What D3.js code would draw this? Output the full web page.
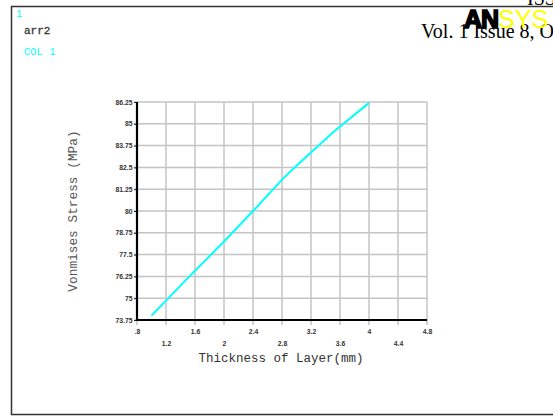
<!DOCTYPE html>
<html><head><meta charset="utf-8">
<script src="https://cdn.jsdelivr.net/npm/d3@7"></script>
<style>
html,body{margin:0;padding:0;background:#fff;overflow:hidden}
svg{display:block}
</style></head><body>
<script>
// ---- data ----
const thickness = [1.0, 1.5, 2.0, 2.4, 2.8, 3.0, 3.5, 4.0];
const stress    = [74.0, 76.15, 78.25, 80.0, 81.8, 82.6, 84.5, 86.2];
const xTicks = [0.8, 1.2, 1.6, 2.0, 2.4, 2.8, 3.2, 3.6, 4.0, 4.4, 4.8];
const xTickLabels = [".8", "1.2", "1.6", "2", "2.4", "2.8", "3.2", "3.6", "4", "4.4", "4.8"];
const yTicks = [73.75, 75, 76.25, 77.5, 78.75, 80, 81.25, 82.5, 83.75, 85, 86.25];
const yTickLabels = ["73.75", "75", "76.25", "77.5", "78.75", "80", "81.25", "82.5", "83.75", "85", "86.25"];
const xTitle = "Thickness of Layer(mm)";
const yTitle = "Vonmises Stress (MPa)";

const W = 553, H = 416;
const svg = d3.select("body").append("svg").attr("width", W).attr("height", H);

const x = d3.scaleLinear().domain([0.8, 4.8]).range([137, 427]);
const y = d3.scaleLinear().domain([73.75, 86.25]).range([320, 102]);

// window frame
svg.append("path").attr("d", "M553,6.5 H11.5 V414.5 H553")
  .attr("fill", "none").attr("stroke", "#333").attr("stroke-width", 1.5);

// header overlay (page text)
svg.append("text").attr("x", 527).attr("y", 5).text("ISSN")
  .attr("font-family", "Liberation Serif, Times New Roman, serif").attr("font-size", 20).attr("fill", "#000");
svg.append("text").attr("x", 421).attr("y", 38).text("Vol. 1 Issue 8, October")
  .attr("font-family", "Liberation Serif, Times New Roman, serif").attr("font-size", 20).attr("fill", "#000");
const logo = svg.append("text").attr("x", 464).attr("y", 28)
  .attr("font-family", "Liberation Sans, Arial, sans-serif").attr("font-size", 25);
logo.append("tspan").text("AN").attr("font-weight", 900).attr("fill", "#000")
  .attr("stroke", "#000").attr("stroke-width", 1.6).attr("letter-spacing", -1);
logo.append("tspan").text("SYS").attr("fill", "#ffff00");

// ANSYS window labels
svg.append("text").attr("x", 16).attr("y", 17).text("1")
  .attr("font-family", "Liberation Mono, monospace").attr("font-size", 10.5).attr("fill", "#00ffff");
svg.append("text").attr("x", 24).attr("y", 34).text("arr2")
  .attr("font-family", "Liberation Mono, monospace").attr("font-size", 11).attr("fill", "#333")
  .attr("stroke", "#333").attr("stroke-width", 0.3);
svg.append("text").attr("x", 24).attr("y", 55).text("COL  1")
  .attr("font-family", "Liberation Mono, monospace").attr("font-size", 10.5).attr("fill", "#00ffff");

// grid
const grid = svg.append("g").attr("stroke", "#c4c4c4").attr("stroke-width", 1.5);
grid.selectAll("line.v").data(xTicks).join("line")
  .attr("x1", d => x(d)).attr("x2", d => x(d)).attr("y1", y(86.25)).attr("y2", y(73.75) + 5);
grid.selectAll("line.h").data(yTicks).join("line")
  .attr("y1", d => y(d)).attr("y2", d => y(d)).attr("x1", x(0.8) - 3).attr("x2", x(4.8));

// axes (labels)
const tickFont = "Liberation Sans, Arial, sans-serif";
const yAxis = svg.append("g").attr("transform", `translate(${x(0.8)},0)`)
  .call(d3.axisLeft(y).tickValues(yTicks).tickSize(3).tickPadding(1.5)
    .tickFormat((d, i) => yTickLabels[i]));
yAxis.select(".domain").remove();
yAxis.selectAll("line").attr("stroke", "#222");
yAxis.selectAll("text").attr("font-family", tickFont).attr("font-size", 6.8)
  .attr("font-weight", "bold").attr("fill", "#333");

const xAxis = svg.append("g").attr("transform", `translate(0,${y(73.75)})`)
  .call(d3.axisBottom(x).tickValues(xTicks).tickSize(0).tickPadding(9)
    .tickFormat((d, i) => xTickLabels[i]));
xAxis.select(".domain").remove();
xAxis.selectAll("text").attr("font-family", tickFont).attr("font-size", 6.8)
  .attr("font-weight", "bold").attr("fill", "#333")
  .attr("dy", (d, i) => i % 2 === 0 ? "0.71em" : "2.5em");

// axis lines
svg.append("line").attr("x1", x(0.8)).attr("x2", x(0.8)).attr("y1", y(86.25)).attr("y2", y(73.75) + 1)
  .attr("stroke", "#000").attr("stroke-width", 2.2);
svg.append("line").attr("x1", x(0.8) - 1).attr("x2", x(4.8)).attr("y1", y(73.75)).attr("y2", y(73.75))
  .attr("stroke", "#000").attr("stroke-width", 2.2);

// titles
svg.append("text").attr("x", 281).attr("y", 362).attr("text-anchor", "middle").text(xTitle)
  .attr("font-family", "Liberation Mono, Courier New, monospace").attr("font-size", 12.5).attr("fill", "#333");
svg.append("text").attr("transform", "translate(77,211) rotate(-90)").attr("text-anchor", "middle").text(yTitle)
  .attr("font-family", "Liberation Mono, Courier New, monospace").attr("font-size", 12.8).attr("fill", "#555");

// data line
const line = d3.line().x((d, i) => x(thickness[i])).y(d => y(d));
svg.append("path").datum(stress).attr("d", line)
  .attr("fill", "none").attr("stroke", "#00ffff").attr("stroke-width", 2);
</script>
</body></html>
